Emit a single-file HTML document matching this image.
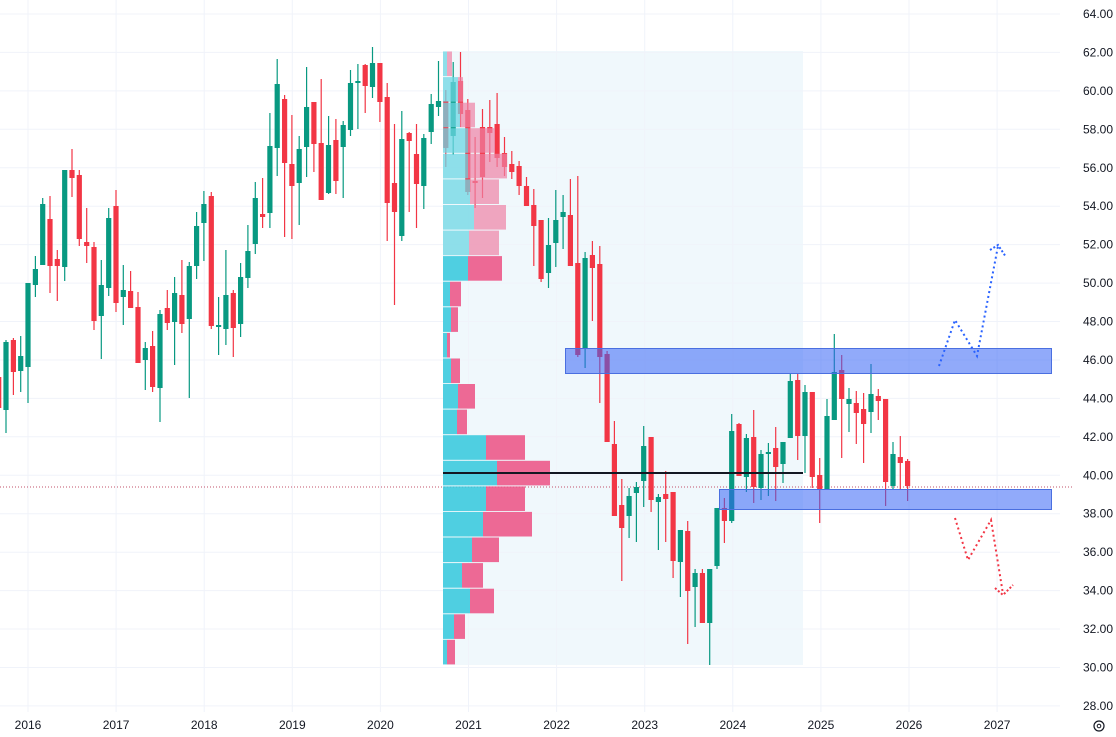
<!DOCTYPE html>
<html><head><meta charset="utf-8"><style>
html,body{margin:0;padding:0;background:#fff;}
svg{display:block;font-family:"Liberation Sans",sans-serif;}
</style></head><body>
<svg id="c" width="1116" height="737" viewBox="0 0 1116 737" xmlns="http://www.w3.org/2000/svg">
<rect x="0" y="0" width="1116" height="737" fill="#fff"/>
<rect x="443" y="51" width="360" height="614" fill="#f0f8fc"/>
<g id="grid" stroke="#f0f3fa" stroke-width="1"></g>
<g id="axis" font-size="12" fill="#131722"></g>
<line x1="0" y1="487" x2="1072" y2="487" stroke="#c2506a" stroke-width="1" stroke-dasharray="1,2"/>
<g id="candles"></g>
<g id="vp"></g>
<rect x="565.5" y="348.5" width="486" height="25" fill="rgba(55,100,245,0.55)" stroke="#4a6fe0" stroke-width="1"/>
<rect x="719.5" y="489.5" width="332" height="20" fill="rgba(55,100,245,0.55)" stroke="#4a6fe0" stroke-width="1"/>
<line x1="443" y1="473" x2="803" y2="473" stroke="#131722" stroke-width="2"/>
<polyline points="939,366 955,320 977,356 998,246" fill="none" stroke="#2962ff" stroke-width="2" stroke-dasharray="2,3"/>
<polyline points="990,250 998,245 1006,257" fill="none" stroke="#2962ff" stroke-width="2" stroke-dasharray="2,2"/>
<polyline points="955,518 968,560 991,520 1003,594" fill="none" stroke="#f23645" stroke-width="2" stroke-dasharray="2,3"/>
<polyline points="995,588 1003,595 1013,585" fill="none" stroke="#f23645" stroke-width="2" stroke-dasharray="2,2"/>
<circle cx="1099" cy="726" r="5" fill="none" stroke="#131722" stroke-width="1.2"/>
<circle cx="1099" cy="726" r="1.8" fill="none" stroke="#131722" stroke-width="1"/>
</svg>
<script>
var NS="http://www.w3.org/2000/svg";
function el(p,t,a,txt){var e=document.createElementNS(NS,t);for(var k in a)e.setAttribute(k,a[k]);if(txt!==undefined)e.textContent=txt;p.appendChild(e);return e;}
var grid=document.getElementById('grid'),axis=document.getElementById('axis');
for(var v=64;v>=28;v-=2){var y=14+(64-v)*19.22;
 el(grid,'line',{x1:0,x2:1060,y1:y.toFixed(1),y2:y.toFixed(1)});
 el(axis,'text',{x:1113,y:(y+4).toFixed(1),'text-anchor':'end'},v.toFixed(2));}
var yrs=[2016,2017,2018,2019,2020,2021,2022,2023,2024,2025,2026,2027];
for(var i=0;i<yrs.length;i++){var x=28+i*88.1;
 el(grid,'line',{x1:x.toFixed(1),x2:x.toFixed(1),y1:0,y2:712});
 el(axis,'text',{x:x.toFixed(1),y:729,'text-anchor':'middle'},yrs[i]);}
var d=[[377,408,343,432],[410,342,340,433],[340,372,338,395],[371,356,336,392],[367,283,283,403],[285,269,256,297],[265,204,198,265],[219,266,196,293],[259,266,250,301],[267,170,170,281],[170,178,149,197],[175,239,170,246],[242,246,208,263],[247,321,242,330],[316,285,260,359],[288,218,208,296],[206,303,190,312],[297,290,265,325],[291,308,271,308],[307,363,292,363],[360,348,342,390],[346,387,331,392],[388,314,310,422],[308,323,290,330],[322,293,277,365],[295,324,260,333],[319,266,262,398],[266,226,212,279],[223,204,191,261],[196,326,192,329],[327,325,297,355],[329,295,250,345],[293,328,290,357],[324,277,263,337],[278,251,225,288],[244,198,182,254],[214,217,178,228],[213,146,113,228],[148,84,59,176],[99,163,95,237],[164,186,115,239],[183,149,136,225],[147,107,67,177],[102,144,102,172],[143,200,79,200],[193,145,116,194],[140,181,119,194],[147,125,121,198],[130,83,70,136],[83,81,64,129],[65,86,64,113],[87,63,47,98],[63,102,63,122],[97,203,83,241],[183,212,124,305],[236,139,111,241],[133,141,132,212],[154,184,124,228],[186,138,134,209],[132,104,94,144],[107,101,61,116],[101,148,90,167],[136,82,62,155],[81,114,52,127],[110,192,99,195],[181,182,137,208],[127,177,109,198],[127,133,100,162],[124,158,93,167],[153,167,137,176],[164,172,151,179],[166,186,161,195],[186,206,177,206],[205,226,189,266],[220,279,220,282],[273,245,218,288],[243,220,190,267],[217,212,195,249],[215,266,179,266],[263,355,176,357],[348,258,252,368],[255,268,241,321],[264,357,246,403],[354,442,351,442],[444,516,421,516],[505,528,479,581],[516,496,488,538],[493,487,482,542],[481,446,426,507],[437,500,437,512],[502,497,494,550],[494,499,471,542],[492,561,492,578],[562,530,530,597],[531,591,521,644],[587,573,569,627],[573,623,569,623],[623,569,569,665],[566,508,508,569],[508,521,498,543],[521,431,414,523],[424,476,423,476],[477,438,434,492],[437,487,410,503],[488,454,450,500],[454,452,443,496],[448,467,427,501],[464,442,442,483],[438,381,373,438],[380,436,373,460],[436,392,385,473],[392,477,392,488],[475,489,458,523],[490,416,399,490],[420,372,334,420],[370,399,355,458],[404,399,388,432],[403,413,391,444],[409,424,393,463],[412,394,364,433],[396,401,389,420],[399,482,399,506],[486,454,442,489],[457,463,436,489],[461,486,459,501]];
var cg=document.getElementById('candles');
for(var i=0;i<d.length;i++){var x=-1.3+7.33*i,c=d[i],g=c[1]<c[0],col=g?'#089981':'#f23645';
 el(cg,'line',{x1:x.toFixed(1),x2:x.toFixed(1),y1:c[2],y2:c[3],stroke:col,'stroke-width':1.2});
 var t=Math.min(c[0],c[1]),h=Math.max(2,Math.abs(c[0]-c[1]));
 el(cg,'rect',{x:(x-2.6).toFixed(1),y:t,width:5.2,height:h,fill:col});}
var vp=document.getElementById('vp');
var rows=[[447,452],[458,463],[460,475],[468,495],[468,507],[470,499],[474,506],[469,499],[468,502],[450,461],[451,458],[447,450],[451,460],[458,475],[457,467],[486,525],[497,550],[486,525],[483,532],[472,499],[462,483],[470,494],[454,465],[447,455]];
for(var r=0;r<rows.length;r++){var y=51+r*25.58,f=r<8;
 el(vp,'rect',{x:443,y:(y+0.5).toFixed(1),width:rows[r][0]-443,height:24.6,fill:f?'rgba(110,215,228,0.75)':'rgba(50,200,220,0.85)'});
 el(vp,'rect',{x:rows[r][0],y:(y+0.5).toFixed(1),width:rows[r][1]-rows[r][0],height:24.6,fill:f?'rgba(238,130,165,0.7)':'rgba(236,80,130,0.85)'});}
</script>
</body></html>
